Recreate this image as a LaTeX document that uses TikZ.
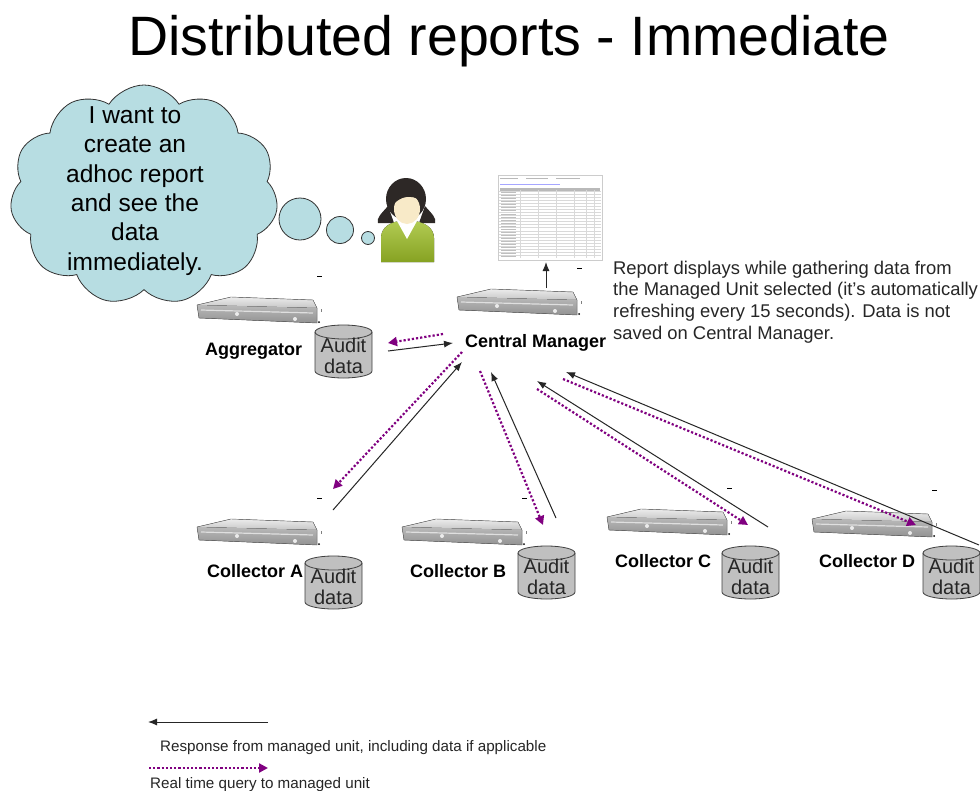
\documentclass[tikz,border=0pt]{standalone}
\usepackage{fontspec}
\setmainfont{Liberation Sans}
\usetikzlibrary{arrows.meta,shapes.symbols}

\definecolor{querypurple}{RGB}{128,0,128}
\definecolor{cloudblue}{RGB}{183,221,226}
\definecolor{dbgray}{RGB}{192,192,192}
\definecolor{hair}{RGB}{45,40,38}
\definecolor{skin}{RGB}{248,234,200}
\definecolor{shirt}{RGB}{158,190,40}

% 1U rack server, #1,#2 = top left corner
\newcommand{\rackunit}[2]{%
  \begin{scope}[shift={(#1,#2)}]
    \fill[top color=gray!15, bottom color=gray!45] (0,9) -- (34,1) -- (116,4) -- (120,12) -- cycle;
    \fill[top color=gray!55, bottom color=gray!85] (0,9) -- (120,12) -- (120,27) -- (2,22) -- cycle;
    \draw[gray!25, line width=1.2pt] (4,14) -- (116,17);
    \fill[gray!15] (40,18) circle (2);
    \fill[gray!15] (98,23) circle (2);
    \draw[gray!70!black, line width=0.4pt] (0,9) -- (34,1) -- (116,4) -- (120,12) -- (120,27) -- (2,22) -- cycle;
    \draw[line width=0.8pt] (120,-20) -- (125,-20);
    \draw[gray, line width=0.5pt] (124,13) -- (124,16);
    \fill (122,26) circle (1);
  \end{scope}}

% audit data cylinder, #1 = node name, #2,#3 = top left corner
\newcommand{\auditdb}[3]{%
  \begin{scope}[shift={(#2,#3)}]
    \draw[db] (0,7) -- (0,46) arc[start angle=180,end angle=0,x radius=28.5,y radius=7]
      -- (57,7) arc[start angle=0,end angle=-180,x radius=28.5,y radius=7] -- cycle;
    \draw[db, fill=none] (0,7) arc[start angle=180,end angle=0,x radius=28.5,y radius=7];
    \node[dbtext] (#1) at (28.5,30.5) {Audit\\data};
  \end{scope}}

\begin{document}
\begin{tikzpicture}[x=1pt,y=-1pt]
\tikzset{reply/.style = {-{Latex[length=9pt,width=7pt]}, line width=1pt, black!85}}
\tikzset{query/.style = {-{Triangle[length=9pt,width=9pt]}, querypurple, line width=2.2pt, dash pattern=on 2.2pt off 2pt}}
\tikzset{unit/.style = {anchor=base west, inner sep=0, font=\bfseries\fontsize{18}{20}\selectfont}}
\tikzset{db/.style = {draw=black!75, fill=dbgray, line width=0.8pt}}
\tikzset{dbtext/.style = {align=center, inner sep=0, text=black!85, font=\fontsize{20}{21}\selectfont}}
\tikzset{thought/.style = {circle, draw=black!80, fill=cloudblue, line width=0.8pt, inner sep=0}}
\tikzset{legendtext/.style = {anchor=base west, inner sep=0, text=black!85, font=\fontsize{15.2}{17}\selectfont}}
\useasboundingbox[fill=white] (0,0) rectangle (980,790);

\node[font=\fontsize{55.5}{60}\selectfont, anchor=base] (title) at (509,55) {Distributed reports - Immediate};

% thought bubble
\node[cloud, cloud puffs=11, cloud puff arc=115, cloud ignores aspect, minimum width=268pt,
      minimum height=220pt, draw=black!80, fill=cloudblue, line width=0.8pt] (bubble) at (144,195) {};
\node[align=center, font=\fontsize{24.5}{29.4}\selectfont] (wish) at (135,191)
  {I want to\\create an\\adhoc report\\and see the\\data\\immediately.};
\node[thought, minimum size=42pt] (t1) at (300,219) {};
\node[thought, minimum size=27pt] (t2) at (340,230) {};
\node[thought, minimum size=13pt] (t3) at (368,238) {};

% user
\fill[hair] (406,199) ellipse [x radius=20, y radius=21];
\fill[hair] (388,206) .. controls (382,213) and (376,218) .. (378,223) -- (394,223) -- cycle;
\fill[hair] (425,206) .. controls (431,213) and (437,218) .. (435,223) -- (419,223) -- cycle;
\fill[top color=shirt!80!white, bottom color=shirt!85!black] (381,262) -- (381,238)
  .. controls (381,227) and (391,222) .. (400,221) -- (414,221)
  .. controls (423,222) and (434,227) .. (434,238) -- (434,262) -- cycle;
\fill[white] (397,221) -- (407,239) -- (417,221) -- cycle;
\fill[skin] (407,209) ellipse [x radius=13, y radius=15];
\fill[hair] (393,205) .. controls (395,190) and (415,186) .. (421,201)
  .. controls (412,194) and (400,196) .. (393,205);

% report preview
\node[draw=gray!40, fill=white, minimum width=104pt, minimum height=85pt, inner sep=0] (report) at (550,217.5) {};
\draw[gray!55, line width=0.6pt] (500,178) -- (518,178) (526,178) -- (548,178) (556,178) -- (580,178);
\draw[blue!35, line width=0.6pt] (500,184) -- (560,184);
\fill[gray!55] (500,188) rectangle (600,191);
\foreach \r in {0,...,21}
  \draw[gray!30, line width=0.3pt] (499,{191+3.05*\r}) -- (601,{191+3.05*\r});
\foreach \c in {520,538,556,574,586,594}
  \draw[gray!30, line width=0.3pt] (\c,190) -- (\c,258);
\foreach \r in {0,...,21}
  \draw[gray!50, line width=0.7pt] (501,{192.5+3.05*\r}) -- (516,{192.5+3.05*\r});

% servers
\rackunit{197}{296}
\rackunit{457}{288}
\rackunit{197}{518}
\rackunit{402}{518}
\rackunit{607}{508}
\rackunit{812}{510}

% data stores
\auditdb{aggdb}{315}{325}
\auditdb{dba}{305}{556}
\auditdb{dbb}{518}{546}
\auditdb{dbc}{722}{546}
\auditdb{dbd}{923}{546}

% labels
\node[unit] (agg) at (205,355.5) {Aggregator};
\node[unit] (cm) at (465,347.5) {Central Manager};
\node[unit] (cola) at (207,577.5) {Collector A};
\node[unit] (colb) at (410,577.5) {Collector B};
\node[unit] (colc) at (615,567.5) {Collector C};
\node[unit] (cold) at (819,567.5) {Collector D};
\node[anchor=north west, inner sep=0, align=left, text=black!85, font=\fontsize{18.4}{21.7}\selectfont] (note) at (613,260.5)
  {Report displays while gathering data from\\the Managed Unit selected (it’s automatically\\refreshing every 15 seconds). Data is not\\saved on Central Manager.};

% arrow ends
\coordinate (cm-up) at (546,288);   \coordinate (rep-in) at (546,262);
\coordinate (cm-qg) at (443,334);   \coordinate (agg-in) at (388,343);
\coordinate (agg-out) at (388,351); \coordinate (cm-rg) at (453,343);
\coordinate (cm-qa) at (462,352);   \coordinate (a-in) at (333,489);
\coordinate (a-out) at (333,510);   \coordinate (cm-ra) at (462,362);
\coordinate (cm-qb) at (480,371);   \coordinate (b-in) at (543,525);
\coordinate (b-out) at (556,518);   \coordinate (cm-rb) at (491,372);
\coordinate (cm-qc) at (537,389);   \coordinate (c-in) at (748,525);
\coordinate (c-out) at (768,527);   \coordinate (cm-rc) at (537,381);
\coordinate (cm-qd) at (563,379);   \coordinate (d-in) at (916,525);
\coordinate (d-out) at (979,545);   \coordinate (cm-rd) at (566,372);

%edges
\draw[reply] (cm-up) -- (rep-in);
\draw[query] (cm-qg) -- (agg-in);
\draw[reply] (agg-out) -- (cm-rg);
\draw[query] (cm-qa) -- (a-in);
\draw[reply] (a-out) -- (cm-ra);
\draw[query] (cm-qb) -- (b-in);
\draw[reply] (b-out) -- (cm-rb);
\draw[query] (cm-qc) -- (c-in);
\draw[reply] (c-out) -- (cm-rc);
\draw[query] (cm-qd) -- (d-in);
\draw[reply] (d-out) -- (cm-rd);

% legend
\coordinate (leg-r1) at (268,722); \coordinate (leg-r2) at (148,722);
\coordinate (leg-q1) at (149,768); \coordinate (leg-q2) at (268,768);
\draw[reply] (leg-r1) -- (leg-r2);
\node[legendtext] (legreply) at (160,751.5) {Response from managed unit, including data if applicable};
\draw[query] (leg-q1) -- (leg-q2);
\node[legendtext] (legquery) at (150,788.5) {Real time query to managed unit};
\end{tikzpicture}
\end{document}
